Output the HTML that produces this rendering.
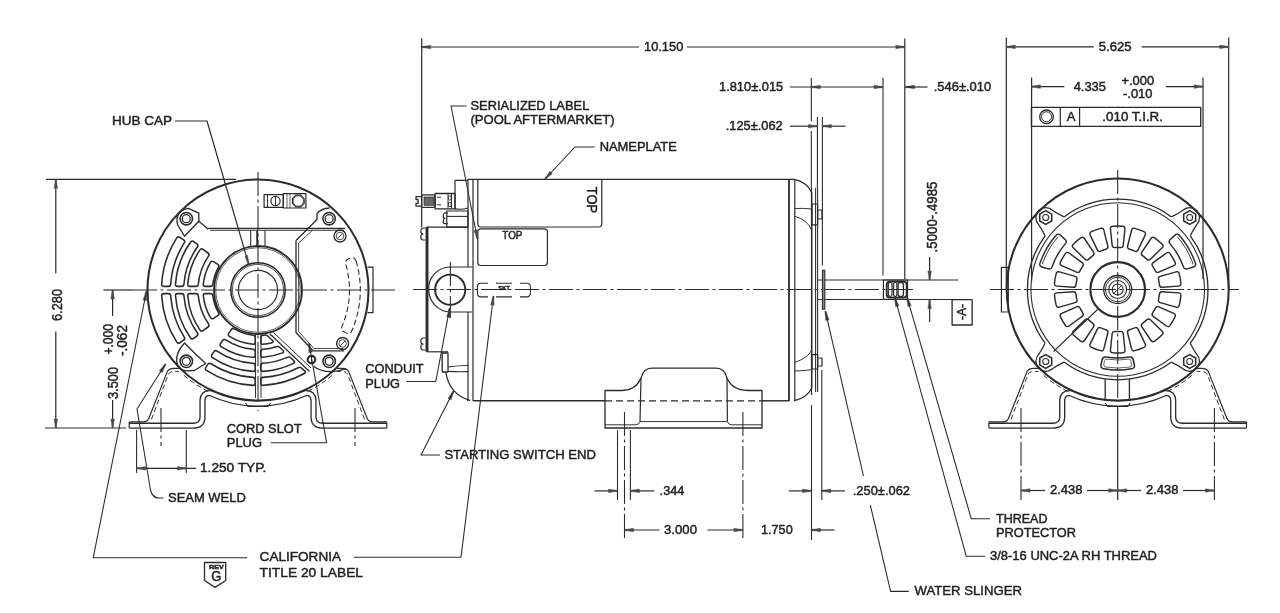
<!DOCTYPE html>
<html><head><meta charset="utf-8"><style>
html,body{margin:0;padding:0;background:#fff;}
svg{display:block;filter:grayscale(1);}
text{font-family:"Liberation Sans", sans-serif;stroke:#222;stroke-width:0.45px;}
</style></head><body>
<svg width="1280" height="613" viewBox="0 0 1280 613" stroke-linecap="butt" stroke-linejoin="round">
<rect width="1280" height="613" fill="#fff"/>
<line x1="133" y1="290" x2="396" y2="290" stroke="#2b2b2b" stroke-width="1.08" stroke-dasharray="24 3.5 3 3.5"/>
<line x1="258" y1="172" x2="258" y2="411" stroke="#2b2b2b" stroke-width="1.08" stroke-dasharray="24 3.5 3 3.5"/>
<circle cx="258" cy="290" r="110.5" stroke="#2b2b2b" stroke-width="2.04" fill="none"/>
<circle cx="258" cy="290" r="44" stroke="#2b2b2b" stroke-width="1.8" fill="none"/>
<circle cx="258" cy="290" r="42.3" stroke="#2b2b2b" stroke-width="0.72" fill="none"/>
<circle cx="258" cy="290" r="27.2" stroke="#2b2b2b" stroke-width="1.56" fill="none"/>
<circle cx="258" cy="290" r="25.6" stroke="#2b2b2b" stroke-width="0.84" fill="none"/>
<circle cx="258" cy="290" r="19.6" stroke="#2b2b2b" stroke-width="1.2" fill="none"/>
<rect x="264.1" y="194.6" width="19.2" height="12.8" rx="0" stroke="#2b2b2b" stroke-width="1.2" fill="none"/>
<rect x="283.3" y="193.7" width="22.6" height="14.3" rx="0" stroke="#2b2b2b" stroke-width="1.2" fill="none"/>
<line x1="267.5" y1="195" x2="267.5" y2="207" stroke="#2b2b2b" stroke-width="0.96"/>
<circle cx="275.5" cy="201" r="4.6" stroke="#2b2b2b" stroke-width="1.2" fill="none"/>
<line x1="275.5" y1="196.4" x2="275.5" y2="205.6" stroke="#2b2b2b" stroke-width="0.96"/>
<line x1="287" y1="194" x2="287" y2="208" stroke="#2b2b2b" stroke-width="0.72"/>
<line x1="290" y1="194" x2="290" y2="208" stroke="#2b2b2b" stroke-width="0.72"/>
<path d="M304.12,203.41 L300.71,206.82 L295.89,206.82 L292.48,203.41 L292.48,198.59 L295.89,195.18 L300.71,195.18 L304.12,198.59 Z" stroke="#2b2b2b" stroke-width="1.2" fill="none"/>
<circle cx="298.3" cy="201" r="5.2" stroke="#2b2b2b" stroke-width="0.72" fill="none"/>
<line x1="208" y1="228.3" x2="345" y2="228.3" stroke="#2b2b2b" stroke-width="1.2"/>
<line x1="210" y1="230.3" x2="344" y2="230.3" stroke="#2b2b2b" stroke-width="1.08"/>
<line x1="250.7" y1="230.3" x2="250.7" y2="247" stroke="#2b2b2b" stroke-width="1.08"/>
<line x1="265" y1="230.3" x2="265" y2="247" stroke="#2b2b2b" stroke-width="1.08"/>
<line x1="257.2" y1="230.3" x2="257.2" y2="246.5" stroke="#2b2b2b" stroke-width="1.92"/>
<path d="M188.5,208.4 L198.8,213.2 L198.8,221.3 L184.5,236.3 L177.8,225 Q175.5,218 179,213.5 Q183,209 188.5,208.4 Z" stroke="#2b2b2b" stroke-width="1.32" fill="none"/>
<line x1="198.8" y1="221.3" x2="208.3" y2="229.3" stroke="#2b2b2b" stroke-width="1.32"/>
<circle cx="186.3" cy="218.7" r="6.2" stroke="#2b2b2b" stroke-width="1.56" fill="none"/>
<circle cx="186.3" cy="218.7" r="4" stroke="#2b2b2b" stroke-width="1.32" fill="none"/>
<path d="M329.5,208 Q321,208.5 317,213.6 L317,219.5 L296,240.5" stroke="#2b2b2b" stroke-width="1.32" fill="none"/>
<circle cx="329.1" cy="218.7" r="6.2" stroke="#2b2b2b" stroke-width="1.56" fill="none"/>
<circle cx="329.1" cy="218.7" r="4" stroke="#2b2b2b" stroke-width="1.32" fill="none"/>
<path d="M184.5,343 Q176,352 176.7,361.3 Q178,370 186,370.8 L194.4,370.5 L205.7,363.5 Q195,354 184.5,343 Z" stroke="#2b2b2b" stroke-width="1.32" fill="none"/>
<circle cx="186.3" cy="361.3" r="6.2" stroke="#2b2b2b" stroke-width="1.56" fill="none"/>
<circle cx="186.3" cy="361.3" r="4" stroke="#2b2b2b" stroke-width="1.32" fill="none"/>
<path d="M313.6,366.2 Q320,371.5 331.2,371.6 Q340,371 346,368.6" stroke="#2b2b2b" stroke-width="1.32" fill="none"/>
<circle cx="329.2" cy="361.3" r="6.2" stroke="#2b2b2b" stroke-width="1.56" fill="none"/>
<circle cx="329.2" cy="361.3" r="4" stroke="#2b2b2b" stroke-width="1.32" fill="none"/>
<path d="M296,240.5 L296,332.5 L313,350.8 L344,350.8" stroke="#2b2b2b" stroke-width="1.32" fill="none"/>
<path d="M312.6,230.3 L298.6,243 L298.6,331.5 L314,348.5 L343,348.5" stroke="#2b2b2b" stroke-width="0.84" fill="none"/>
<circle cx="340" cy="236" r="6" stroke="#2b2b2b" stroke-width="1.32" fill="none"/>
<circle cx="340" cy="236" r="3.8" stroke="#2b2b2b" stroke-width="0.84" fill="none"/>
<line x1="337.5" y1="238.5" x2="342.5" y2="233.5" stroke="#2b2b2b" stroke-width="0.84"/>
<circle cx="342.6" cy="343.5" r="6" stroke="#2b2b2b" stroke-width="1.32" fill="none"/>
<circle cx="342.6" cy="343.5" r="3.8" stroke="#2b2b2b" stroke-width="0.84" fill="none"/>
<line x1="340" y1="346" x2="345" y2="341" stroke="#2b2b2b" stroke-width="0.84"/>
<circle cx="311.5" cy="359.6" r="3.8" stroke="#2b2b2b" stroke-width="2.16" fill="none"/>
<line x1="311.5" y1="356.5" x2="311.5" y2="362.7" stroke="#2b2b2b" stroke-width="0.96"/>
<path d="M356.1,260.98 A102.3,102.3 0 0 1 351.83,330.76 Q349.95,334.85 345.9,332.87 L344.28,332.08 Q340.24,330.11 342.11,326.02 A91.5,91.5 0 0 0 345.87,264.5 Q344.51,260.21 348.77,258.75 L350.47,258.16 Q354.73,256.69 356.1,260.98 Z" stroke="#2b2b2b" stroke-width="1.08" fill="none" stroke-dasharray="5.5 3"/>
<path d="M367.5,267.2 L373,267.2 L373,312.7 L367.5,312.7" stroke="#2b2b2b" stroke-width="1.2" fill="none"/>
<path d="M203.31,284.21 A55,55 0 0 1 210.47,262.33 Q211.61,260.45 213.47,261.63 L217.77,264.37 Q219.63,265.55 218.49,267.44 A45.5,45.5 0 0 0 212.87,284.21 Q212.64,286.4 210.44,286.4 L205.32,286.4 Q203.12,286.4 203.31,284.21 Z" stroke="#2b2b2b" stroke-width="1.56" fill="none"/>
<path d="M203.31,295.79 A55,55 0 0 0 210.47,317.67 Q211.61,319.55 213.47,318.37 L217.77,315.63 Q219.63,314.45 218.49,312.56 A45.5,45.5 0 0 1 212.87,295.79 Q212.64,293.6 210.44,293.6 L205.32,293.6 Q203.12,293.6 203.31,295.79 Z" stroke="#2b2b2b" stroke-width="1.56" fill="none"/>
<path d="M187.74,284.2 A70.5,70.5 0 0 1 200.05,249.85 Q201.33,248.06 203.1,249.37 L208,253 Q209.77,254.31 208.49,256.1 A60,60 0 0 0 198.28,284.21 Q198.11,286.4 195.91,286.4 L189.79,286.4 Q187.59,286.4 187.74,284.2 Z" stroke="#2b2b2b" stroke-width="1.56" fill="none"/>
<path d="M187.74,295.8 A70.5,70.5 0 0 0 200.05,330.15 Q201.33,331.94 203.1,330.63 L208,327 Q209.77,325.69 208.49,323.9 A60,60 0 0 1 198.28,295.79 Q198.11,293.6 195.91,293.6 L189.79,293.6 Q187.59,293.6 187.74,295.8 Z" stroke="#2b2b2b" stroke-width="1.56" fill="none"/>
<path d="M175.5,284.2 A82.7,82.7 0 0 1 190.65,242 Q191.95,240.23 193.71,241.55 L196.9,243.96 Q198.66,245.29 197.36,247.06 A74.3,74.3 0 0 0 183.93,284.2 Q183.79,286.4 181.59,286.4 L177.58,286.4 Q175.38,286.4 175.5,284.2 Z" stroke="#2b2b2b" stroke-width="1.56" fill="none"/>
<path d="M175.5,295.8 A82.7,82.7 0 0 0 190.65,338 Q191.95,339.77 193.71,338.45 L196.9,336.04 Q198.66,334.71 197.36,332.94 A74.3,74.3 0 0 1 183.93,295.8 Q183.79,293.6 181.59,293.6 L177.58,293.6 Q175.38,293.6 175.5,295.8 Z" stroke="#2b2b2b" stroke-width="1.56" fill="none"/>
<path d="M161.67,284.2 A96.5,96.5 0 0 1 176.79,237.88 Q178,236.04 179.82,237.27 L183.64,239.84 Q185.46,241.07 184.25,242.91 A87.5,87.5 0 0 0 170.69,284.2 Q170.57,286.4 168.37,286.4 L163.77,286.4 Q161.57,286.4 161.67,284.2 Z" stroke="#2b2b2b" stroke-width="1.56" fill="none"/>
<path d="M161.67,295.8 A96.5,96.5 0 0 0 176.79,342.12 Q178,343.96 179.82,342.73 L183.64,340.16 Q185.46,338.93 184.25,337.09 A87.5,87.5 0 0 1 170.69,295.8 Q170.57,293.6 168.37,293.6 L163.77,293.6 Q161.57,293.6 161.67,295.8 Z" stroke="#2b2b2b" stroke-width="1.56" fill="none"/>
<path d="M253.01,344.27 A54.5,54.5 0 0 1 229.37,336.38 Q227.52,335.18 228.75,333.36 L231.33,329.55 Q232.56,327.72 234.41,328.91 A45.5,45.5 0 0 0 253.01,335.23 Q255.2,335.41 255.2,337.61 L255.2,342.23 Q255.2,344.43 253.01,344.27 Z" stroke="#2b2b2b" stroke-width="1.56" fill="none"/>
<path d="M262.99,344.27 A54.5,54.5 0 0 0 272,342.67 Q274.12,342.06 272.52,340.55 L267.97,336.24 Q266.37,334.72 264.2,335.08 A45.5,45.5 0 0 1 262.99,335.23 Q260.8,335.41 260.8,337.61 L260.8,342.23 Q260.8,344.43 262.99,344.27 Z" stroke="#2b2b2b" stroke-width="1.56" fill="none"/>
<path d="M253,357.31 A67.5,67.5 0 0 1 221.11,346.53 Q219.28,345.29 220.55,343.49 L222.61,340.54 Q223.87,338.74 225.7,339.97 A59.5,59.5 0 0 0 253,349.29 Q255.2,349.43 255.2,351.63 L255.2,355.24 Q255.2,357.44 253,357.31 Z" stroke="#2b2b2b" stroke-width="1.56" fill="none"/>
<path d="M263,357.31 A67.5,67.5 0 0 0 282.56,352.88 Q284.59,352.04 283.01,350.52 L279.84,347.47 Q278.25,345.95 276.17,346.66 A59.5,59.5 0 0 1 263,349.29 Q260.8,349.43 260.8,351.63 L260.8,355.24 Q260.8,357.44 263,357.31 Z" stroke="#2b2b2b" stroke-width="1.56" fill="none"/>
<path d="M253,371.35 A81.5,81.5 0 0 1 212.48,357.6 Q210.67,356.35 211.95,354.56 L214.04,351.63 Q215.32,349.84 217.13,351.09 A73.5,73.5 0 0 0 253,363.33 Q255.2,363.45 255.2,365.65 L255.2,369.25 Q255.2,371.45 253,371.35 Z" stroke="#2b2b2b" stroke-width="1.56" fill="none"/>
<path d="M263,371.35 A81.5,81.5 0 0 0 293.54,363.34 Q295.51,362.36 293.91,360.85 L290.9,358.01 Q289.29,356.5 287.29,357.41 A73.5,73.5 0 0 1 263,363.33 Q260.8,363.45 260.8,365.65 L260.8,369.25 Q260.8,371.45 263,371.35 Z" stroke="#2b2b2b" stroke-width="1.56" fill="none"/>
<path d="M253,385.37 A95.5,95.5 0 0 1 206.43,370.38 Q204.6,369.17 205.83,367.35 L207.84,364.36 Q209.07,362.54 210.91,363.75 A87.5,87.5 0 0 0 253,377.36 Q255.2,377.46 255.2,379.66 L255.2,383.26 Q255.2,385.46 253,385.37 Z" stroke="#2b2b2b" stroke-width="1.56" fill="none"/>
<path d="M263,385.37 A95.5,95.5 0 0 0 304.27,373.54 Q306.18,372.45 304.59,370.93 L301.74,368.2 Q300.15,366.68 298.21,367.71 A87.5,87.5 0 0 1 263,377.36 Q260.8,377.46 260.8,379.66 L260.8,383.26 Q260.8,385.46 263,385.37 Z" stroke="#2b2b2b" stroke-width="1.56" fill="none"/>
<line x1="255.5" y1="334" x2="255.5" y2="398" stroke="#2b2b2b" stroke-width="0.96"/>
<line x1="261" y1="334" x2="261" y2="398" stroke="#2b2b2b" stroke-width="0.96"/>
<line x1="270" y1="334" x2="309.5" y2="371.5" stroke="#2b2b2b" stroke-width="1.2"/>
<line x1="273.5" y1="332.5" x2="311" y2="368" stroke="#2b2b2b" stroke-width="0.96"/>
<path d="M129.2,425.7 L193,425.7 Q202.5,425.7 202.5,417 L202.5,400 Q203,393 210,393 A113.6,113.6 0 0 0 306,393 Q313,393 313.5,400 L313.5,417 Q313.5,425.7 323,425.7 L386.8,425.7" stroke="#2b2b2b" stroke-width="6.24" fill="none"/>
<path d="M129.2,425.7 L193,425.7 Q202.5,425.7 202.5,417 L202.5,400 Q203,393 210,393 A113.6,113.6 0 0 0 306,393 Q313,393 313.5,400 L313.5,417 Q313.5,425.7 323,425.7 L386.8,425.7" stroke="#fff" stroke-width="3.6" fill="none"/>
<line x1="129.2" y1="421.9" x2="129.2" y2="428" stroke="#2b2b2b" stroke-width="1.2"/>
<line x1="386.8" y1="421.9" x2="386.8" y2="428" stroke="#2b2b2b" stroke-width="1.2"/>
<path d="M129.2,421.9 L143.5,421.9 Q147.5,421.9 149,418 L167.4,371.4 Q169.5,368.4 174,368.4 L179,368.4" stroke="#2b2b2b" stroke-width="1.2" fill="none"/>
<path d="M151.4,419.4 L168.5,374 Q170,371.4 174,371.4 L179,371.4" stroke="#2b2b2b" stroke-width="0.96" fill="none" stroke-dasharray="5 3"/>
<path d="M386.8,421.9 L372.5,421.9 Q368.5,421.9 367,418 L348.6,371.4 Q346.5,368.4 342,368.4 L337,368.4" stroke="#2b2b2b" stroke-width="1.2" fill="none"/>
<path d="M364.6,419.4 L347.5,374 Q346,371.4 342,371.4 L337,371.4" stroke="#2b2b2b" stroke-width="0.96" fill="none" stroke-dasharray="5 3"/>
<path d="M183.87,375.28 L188.43,379.05 L193.19,382.56 L198.12,385.83 L203.22,388.83 L208.46,391.56" stroke="#2b2b2b" stroke-width="0.96" fill="none" stroke-dasharray="5 3"/>
<path d="M332.13,375.28 L327.57,379.05 L322.81,382.56 L317.88,385.83 L312.78,388.83 L307.54,391.56" stroke="#2b2b2b" stroke-width="0.96" fill="none" stroke-dasharray="5 3"/>
<path d="M245.5,403 L248,406.5 L268,406.5 L270.5,403" stroke="#2b2b2b" stroke-width="1.08" fill="none"/>
<line x1="161" y1="408" x2="161" y2="446" stroke="#2b2b2b" stroke-width="1.08" stroke-dasharray="24 3.5 3 3.5"/>
<line x1="355" y1="408" x2="355" y2="446" stroke="#2b2b2b" stroke-width="1.08" stroke-dasharray="24 3.5 3 3.5"/>
<line x1="46" y1="179.3" x2="236" y2="179.3" stroke="#2b2b2b" stroke-width="1.2"/>
<line x1="45" y1="428" x2="126" y2="428" stroke="#2b2b2b" stroke-width="1.2"/>
<line x1="55.8" y1="179.3" x2="55.8" y2="273.2" stroke="#2b2b2b" stroke-width="1.2"/>
<line x1="55.8" y1="331.6" x2="55.8" y2="428" stroke="#2b2b2b" stroke-width="1.2"/>
<path d="M56.45,179.3 Q56.58,183.35 57.6,188.3 L54,188.3 Q55.02,183.35 55.15,179.3 Z" fill="#484848" stroke="#484848" stroke-width="0.4"/>
<path d="M55.15,428 Q55.02,423.95 54,419 L57.6,419 Q56.58,423.95 56.45,428 Z" fill="#484848" stroke="#484848" stroke-width="0.4"/>
<text x="41" y="310.01" font-size="14" fill="#222" textLength="32" lengthAdjust="spacingAndGlyphs" transform="rotate(-90 57 305)">6.280</text>
<line x1="112.6" y1="290" x2="112.6" y2="316" stroke="#2b2b2b" stroke-width="1.2"/>
<line x1="103.4" y1="290" x2="133" y2="290" stroke="#2b2b2b" stroke-width="1.2"/>
<line x1="112.6" y1="400" x2="112.6" y2="428" stroke="#2b2b2b" stroke-width="1.2"/>
<path d="M113.25,290 Q113.38,294.05 114.4,299 L110.8,299 Q111.82,294.05 111.95,290 Z" fill="#484848" stroke="#484848" stroke-width="0.4"/>
<path d="M111.95,428 Q111.82,423.95 110.8,419 L114.4,419 Q113.38,423.95 113.25,428 Z" fill="#484848" stroke="#484848" stroke-width="0.4"/>
<text x="92.3" y="344.31" font-size="14" fill="#222" textLength="30.6" lengthAdjust="spacingAndGlyphs" transform="rotate(-90 107.6 339.3)">+.000</text>
<text x="106" y="345.51" font-size="14" fill="#222" textLength="31" lengthAdjust="spacingAndGlyphs" transform="rotate(-90 121.5 340.5)">-.062</text>
<text x="97" y="388.01" font-size="14" fill="#222" textLength="32" lengthAdjust="spacingAndGlyphs" transform="rotate(-90 113 383)">3.500</text>
<line x1="136.6" y1="430" x2="136.6" y2="473" stroke="#2b2b2b" stroke-width="1.08"/>
<line x1="186.3" y1="430" x2="186.3" y2="473" stroke="#2b2b2b" stroke-width="1.08"/>
<line x1="136.6" y1="468.4" x2="196" y2="468.4" stroke="#2b2b2b" stroke-width="1.2"/>
<path d="M136.6,467.75 Q140.65,467.62 145.6,466.6 L145.6,470.2 Q140.65,469.18 136.6,469.05 Z" fill="#484848" stroke="#484848" stroke-width="0.4"/>
<path d="M186.3,469.05 Q182.25,469.18 177.3,470.2 L177.3,466.6 Q182.25,467.62 186.3,467.75 Z" fill="#484848" stroke="#484848" stroke-width="0.4"/>
<text x="200" y="472.35" font-size="13" fill="#222" text-anchor="start" textLength="66.4" lengthAdjust="spacingAndGlyphs">1.250 TYP.</text>
<path d="M166.05,364.34 Q164.02,367.85 162.27,372.59 L159.21,370.68 Q162.7,367.02 164.95,363.66 Z" fill="#484848" stroke="#484848" stroke-width="0.4"/>
<path d="M165.5,364 L137,409 L150.5,490 Q152.5,498 159,498 L163.6,498" stroke="#2b2b2b" stroke-width="1.08" fill="none"/>
<text x="168" y="501.75" font-size="13" fill="#222" text-anchor="start" textLength="77.8" lengthAdjust="spacingAndGlyphs">SEAM WELD</text>
<path d="M309.64,343.38 Q310.49,347.35 312.37,352.04 L308.82,352.68 Q308.95,347.62 308.36,343.62 Z" fill="#484848" stroke="#484848" stroke-width="0.4"/>
<path d="M309,343.5 L326.6,442.8 L270.8,442.8" stroke="#2b2b2b" stroke-width="1.08" fill="none"/>
<text x="226.8" y="433.35" font-size="13" fill="#222" text-anchor="start" textLength="74.8" lengthAdjust="spacingAndGlyphs">CORD SLOT</text>
<text x="226.8" y="447.15" font-size="13" fill="#222" text-anchor="start" textLength="35.2" lengthAdjust="spacingAndGlyphs">PLUG</text>
<path d="M175,121 L207,121 L248.7,264.3" stroke="#2b2b2b" stroke-width="1.2" fill="none"/>
<path d="M248.08,264.48 Q246.83,260.63 244.86,256.04 L247.55,255.27 Q248.32,260.19 249.32,264.12 Z" fill="#484848" stroke="#484848" stroke-width="0.4"/>
<text x="112" y="124.95" font-size="13" fill="#222" text-anchor="start" textLength="60" lengthAdjust="spacingAndGlyphs">HUB CAP</text>
<path d="M147.04,291.62 Q146.41,295.62 146.49,300.68 L142.95,300.01 Q144.88,295.33 145.76,291.38 Z" fill="#484848" stroke="#484848" stroke-width="0.4"/>
<path d="M146.4,291.5 L93.2,557.8 L247.3,557.8" stroke="#2b2b2b" stroke-width="1.08" fill="none"/>
<path d="M353.7,557.3 L461,557.3 L493.5,296" stroke="#2b2b2b" stroke-width="1.08" fill="none"/>
<path d="M494.14,296.08 Q493.77,300.12 494.16,305.15 L490.59,304.7 Q492.22,299.92 492.86,295.92 Z" fill="#484848" stroke="#484848" stroke-width="0.4"/>
<text x="259.6" y="561.35" font-size="13" fill="#222" text-anchor="start" textLength="81.4" lengthAdjust="spacingAndGlyphs">CALIFORNIA</text>
<text x="259.6" y="576.95" font-size="13" fill="#222" text-anchor="start" textLength="103.4" lengthAdjust="spacingAndGlyphs">TITLE 20 LABEL</text>
<path d="M204.5,562.5 L225.7,562.5 L225.7,580.5 L215.1,587.4 L204.5,580.5 Z" stroke="#2b2b2b" stroke-width="1.32" fill="none"/>
<text x="209" y="568.8" font-size="6" font-weight="bold" fill="#222" textLength="14.8" lengthAdjust="spacingAndGlyphs">REV</text>
<text x="211.3" y="580.91" font-size="14" fill="#222" text-anchor="start" textLength="10.2" lengthAdjust="spacingAndGlyphs">G</text>
<line x1="413" y1="289.5" x2="914" y2="289.5" stroke="#2b2b2b" stroke-width="1.08" stroke-dasharray="24 3.5 3 3.5"/>
<line x1="468" y1="179.4" x2="794.5" y2="179.4" stroke="#2b2b2b" stroke-width="1.44"/>
<line x1="473" y1="400.8" x2="605" y2="400.8" stroke="#2b2b2b" stroke-width="1.44"/>
<line x1="605" y1="400.8" x2="762" y2="400.8" stroke="#2b2b2b" stroke-width="1.2" stroke-dasharray="7 4"/>
<line x1="762" y1="400.8" x2="789" y2="400.8" stroke="#2b2b2b" stroke-width="1.44"/>
<line x1="468" y1="179.4" x2="468" y2="267" stroke="#2b2b2b" stroke-width="1.2"/>
<line x1="468" y1="312" x2="468" y2="401" stroke="#2b2b2b" stroke-width="1.2"/>
<line x1="473" y1="179.4" x2="473" y2="401" stroke="#2b2b2b" stroke-width="1.2"/>
<path d="M477.8,179.4 L477.8,223.5 Q477.8,227 481,227 L598.5,227 Q601.8,227 601.8,223.5 L601.8,179.4" stroke="#2b2b2b" stroke-width="1.2" fill="none"/>
<text x="578.75" y="205.37" font-size="15" fill="#222" textLength="26.3" lengthAdjust="spacingAndGlyphs" transform="rotate(90 591.9 200)">TOP</text>
<rect x="477.8" y="228.8" width="69.6" height="36.7" rx="3" stroke="#2b2b2b" stroke-width="1.2" fill="none"/>
<text x="502.3" y="238.88" font-size="10" fill="#222" text-anchor="start" textLength="20.2" lengthAdjust="spacingAndGlyphs">TOP</text>
<path d="M455,180.3 L468,180.3 M455,180.3 L455,208.8 Q462,210 468,208" stroke="#2b2b2b" stroke-width="1.2" fill="none"/>
<rect x="435.1" y="193.5" width="19.9" height="15.3" rx="0" stroke="#2b2b2b" stroke-width="1.32" fill="none"/>
<line x1="437" y1="197.2" x2="441" y2="197.2" stroke="#2b2b2b" stroke-width="0.96"/>
<line x1="437" y1="204.8" x2="441" y2="204.8" stroke="#2b2b2b" stroke-width="0.96"/>
<line x1="448" y1="194" x2="448" y2="208.5" stroke="#2b2b2b" stroke-width="0.96"/>
<line x1="451.5" y1="194" x2="451.5" y2="208.5" stroke="#2b2b2b" stroke-width="0.96"/>
<rect x="448.5" y="196" width="2.5" height="4" rx="0" stroke="#2b2b2b" stroke-width="0.72" fill="none"/>
<rect x="448.5" y="202.5" width="2.5" height="4" rx="0" stroke="#2b2b2b" stroke-width="0.72" fill="none"/>
<rect x="421.7" y="194.9" width="13.4" height="12.5" rx="1.5" stroke="#2b2b2b" stroke-width="1.2" fill="none"/>
<rect x="424" y="197" width="10" height="8.3" rx="0" stroke="#2b2b2b" stroke-width="0.72" fill="#666"/>
<path d="M421.7,196.7 L416,196.7 L416,199.5 L418,199.5 L418,203.3 L416,203.3 L416,206.1 L421.7,206.1" stroke="#2b2b2b" stroke-width="1.32" fill="none"/>
<rect x="446.8" y="211" width="21.2" height="16.2" rx="0" stroke="#2b2b2b" stroke-width="1.2" fill="none"/>
<line x1="446.8" y1="216.4" x2="468" y2="216.4" stroke="#2b2b2b" stroke-width="1.08"/>
<path d="M447.7,212.8 L445,212.8 Q443.2,213.5 443.2,215.8 Q443.2,218.2 445,218.2 Q443.2,218.8 443.2,221.2 Q443.2,223.6 445,223.6 L447.7,223.6" stroke="#2b2b2b" stroke-width="1.2" fill="none"/>
<line x1="426.2" y1="227.2" x2="468" y2="227.2" stroke="#2b2b2b" stroke-width="1.2"/>
<line x1="427" y1="227.2" x2="427" y2="351.8" stroke="#2b2b2b" stroke-width="2.88"/>
<path d="M425.5,228 L423,228 Q420.8,228.5 420.8,231 Q420.8,234 423,234 Q420.8,234.5 420.8,237 Q420.8,240 423,240 L425.5,240" stroke="#2b2b2b" stroke-width="1.2" fill="none"/>
<path d="M425.5,338 L423,338 Q420.8,338.5 420.8,341 Q420.8,344 423,344 Q420.8,344.5 420.8,347 Q420.8,350 423,350 L425.5,350" stroke="#2b2b2b" stroke-width="1.2" fill="none"/>
<line x1="426.5" y1="351.8" x2="448" y2="351.8" stroke="#2b2b2b" stroke-width="1.2"/>
<circle cx="450.2" cy="289.7" r="15.1" stroke="#2b2b2b" stroke-width="1.92" fill="none"/>
<path d="M428.7,289.5 A21.5,21.5 0 0 1 450.2,267 L472.4,267" stroke="#2b2b2b" stroke-width="1.2" fill="none"/>
<path d="M428.7,289.5 A22.5,22.5 0 0 0 450.2,312 L472.4,312" stroke="#2b2b2b" stroke-width="1.2" fill="none"/>
<line x1="450.4" y1="262" x2="450.4" y2="318" stroke="#2b2b2b" stroke-width="1.08" stroke-dasharray="24 3.5 3 3.5"/>
<path d="M488,283.2 L481,283.2 Q477.4,283.2 477.4,286.8 L477.4,293.3 Q477.4,296.9 481,296.9 L488,296.9 M496,283.2 L512,283.2 M496,296.9 L512,296.9 M520,283.2 L526.8,283.2 Q530.4,283.2 530.4,286.8 L530.4,293.3 Q530.4,296.9 526.8,296.9 L520,296.9" stroke="#2b2b2b" stroke-width="1.08" fill="none"/>
<text x="504" y="289.95" font-size="6" fill="#222" text-anchor="middle">SKT</text>
<rect x="442.2" y="353" width="5.8" height="19" rx="0" stroke="#2b2b2b" stroke-width="1.32" fill="none"/>
<path d="M448,367 Q458,365.5 468.5,365.5" stroke="#2b2b2b" stroke-width="1.08" fill="none"/>
<path d="M448,371.4 Q458,372 468.5,371.6" stroke="#2b2b2b" stroke-width="1.08" fill="none"/>
<path d="M445.8,372 Q449,394 470,400.5" stroke="#2b2b2b" stroke-width="1.32" fill="none"/>
<line x1="789" y1="179.4" x2="789" y2="401" stroke="#2b2b2b" stroke-width="1.8"/>
<line x1="794.8" y1="179.4" x2="794.8" y2="401" stroke="#2b2b2b" stroke-width="1.2"/>
<path d="M794,179.4 Q807,182 811.8,192.8 L811.8,388 Q807,398 794,400.8" stroke="#2b2b2b" stroke-width="1.2" fill="none"/>
<path d="M794.8,208.5 Q803,208 811.8,209" stroke="#2b2b2b" stroke-width="0.96" fill="none"/>
<path d="M794.8,216.3 Q808,220 811.8,230.7" stroke="#2b2b2b" stroke-width="0.96" fill="none"/>
<path d="M794.8,371 Q803,371 811.8,369.6" stroke="#2b2b2b" stroke-width="0.96" fill="none"/>
<path d="M794.8,362.4 Q808,358 811.8,350" stroke="#2b2b2b" stroke-width="0.96" fill="none"/>
<line x1="811.5" y1="188" x2="811.5" y2="395" stroke="#2b2b2b" stroke-width="1.2"/>
<line x1="815.6" y1="188" x2="815.6" y2="392" stroke="#2b2b2b" stroke-width="1.08"/>
<line x1="817.6" y1="188" x2="817.6" y2="392" stroke="#2b2b2b" stroke-width="1.08"/>
<rect x="812" y="204" width="5.6" height="20.8" rx="0" stroke="#2b2b2b" stroke-width="1.2" fill="none"/>
<rect x="817.6" y="210" width="4.4" height="9" rx="0" stroke="#2b2b2b" stroke-width="1.2" fill="none"/>
<rect x="812" y="354.6" width="5.6" height="14.4" rx="0" stroke="#2b2b2b" stroke-width="1.2" fill="none"/>
<rect x="817.6" y="358" width="4.4" height="8" rx="0" stroke="#2b2b2b" stroke-width="1.2" fill="none"/>
<line x1="817.6" y1="280" x2="958" y2="280" stroke="#2b2b2b" stroke-width="1.2"/>
<line x1="817.6" y1="299.5" x2="955" y2="299.5" stroke="#2b2b2b" stroke-width="1.2"/>
<rect x="822.4" y="270.2" width="2.4" height="39.1" rx="0" stroke="#2b2b2b" stroke-width="1.08" fill="#888"/>
<rect x="883.4" y="280" width="24.1" height="19.4" rx="0" stroke="#2b2b2b" stroke-width="1.2" fill="none"/>
<rect x="886.7" y="281.7" width="20" height="15.9" rx="3" stroke="#2b2b2b" stroke-width="1.8" fill="none"/>
<rect x="888.3" y="282.5" width="3.7" height="13.9" rx="1.8" stroke="#2b2b2b" stroke-width="1.2" fill="none"/>
<rect x="893.6" y="282.5" width="3.3" height="13.9" rx="1.6" stroke="#2b2b2b" stroke-width="1.2" fill="none"/>
<rect x="898.1" y="282.5" width="5.3" height="13.9" rx="2" stroke="#2b2b2b" stroke-width="1.32" fill="none"/>
<path d="M605,428 L605,390.5 L622.4,390.5 Q636,390 641,378 Q643.6,368.2 652,368.2 L716,368.2 Q724.5,368.2 727,378 Q732,390 747.5,390.5 L762,390.5 L762,428 Z" stroke="#2b2b2b" stroke-width="1.32" fill="none"/>
<line x1="641" y1="378" x2="640" y2="421.6" stroke="#2b2b2b" stroke-width="1.2"/>
<line x1="727" y1="378" x2="727.4" y2="421.6" stroke="#2b2b2b" stroke-width="1.2"/>
<path d="M605,424.8 L636,424.8 Q639,424.8 640,421.6 L727.4,421.6 Q728.4,424.8 731.4,424.8 L762,424.8" stroke="#2b2b2b" stroke-width="0.96" fill="none"/>
<line x1="421.7" y1="38.3" x2="421.7" y2="227.3" stroke="#2b2b2b" stroke-width="1.2"/>
<line x1="904.8" y1="38.6" x2="904.8" y2="279" stroke="#2b2b2b" stroke-width="1.2"/>
<line x1="421.7" y1="47" x2="639" y2="47" stroke="#2b2b2b" stroke-width="1.2"/>
<line x1="687" y1="47" x2="904.8" y2="47" stroke="#2b2b2b" stroke-width="1.2"/>
<path d="M421.7,46.35 Q425.75,46.22 430.7,45.2 L430.7,48.8 Q425.75,47.78 421.7,47.65 Z" fill="#484848" stroke="#484848" stroke-width="0.4"/>
<path d="M904.8,47.65 Q900.75,47.78 895.8,48.8 L895.8,45.2 Q900.75,46.22 904.8,46.35 Z" fill="#484848" stroke="#484848" stroke-width="0.4"/>
<text x="644" y="50.95" font-size="13" fill="#222" text-anchor="start" textLength="39.3" lengthAdjust="spacingAndGlyphs">10.150</text>
<path d="M466.6,106 L451,106 L477.5,239" stroke="#2b2b2b" stroke-width="1.08" fill="none"/>
<path d="M476.86,239.13 Q475.94,235.18 473.97,230.53 L477.5,229.82 Q477.47,234.88 478.14,238.87 Z" fill="#484848" stroke="#484848" stroke-width="0.4"/>
<text x="470.5" y="110.15" font-size="13" fill="#222" text-anchor="start" textLength="118.8" lengthAdjust="spacingAndGlyphs">SERIALIZED LABEL</text>
<text x="470.5" y="124.45" font-size="13" fill="#222" text-anchor="start" textLength="144.1" lengthAdjust="spacingAndGlyphs">(POOL AFTERMARKET)</text>
<path d="M594.5,147 L575,147 L545,179" stroke="#2b2b2b" stroke-width="1.08" fill="none"/>
<path d="M544.52,178.56 Q547.19,175.5 549.82,171.19 L552.45,173.64 Q548.33,176.57 545.48,179.44 Z" fill="#484848" stroke="#484848" stroke-width="0.4"/>
<text x="599.7" y="151.15" font-size="13" fill="#222" text-anchor="start" textLength="77.1" lengthAdjust="spacingAndGlyphs">NAMEPLATE</text>
<line x1="811.3" y1="77.7" x2="811.3" y2="121" stroke="#2b2b2b" stroke-width="1.08"/>
<line x1="811.3" y1="131" x2="811.3" y2="188" stroke="#2b2b2b" stroke-width="1.08"/>
<line x1="883" y1="77.7" x2="883" y2="275.6" stroke="#2b2b2b" stroke-width="1.08"/>
<line x1="790" y1="87" x2="883" y2="87" stroke="#2b2b2b" stroke-width="1.2"/>
<path d="M811.3,86.35 Q815.35,86.22 820.3,85.2 L820.3,88.8 Q815.35,87.78 811.3,87.65 Z" fill="#484848" stroke="#484848" stroke-width="0.4"/>
<path d="M883,87.65 Q878.95,87.78 874,88.8 L874,85.2 Q878.95,86.22 883,86.35 Z" fill="#484848" stroke="#484848" stroke-width="0.4"/>
<text x="719" y="90.95" font-size="13" fill="#222" text-anchor="start" textLength="64.2" lengthAdjust="spacingAndGlyphs">1.810±.015</text>
<path d="M905.5,86.35 Q909.55,86.22 914.5,85.2 L914.5,88.8 Q909.55,87.78 905.5,87.65 Z" fill="#484848" stroke="#484848" stroke-width="0.4"/>
<line x1="905.5" y1="87" x2="927.5" y2="87" stroke="#2b2b2b" stroke-width="1.2"/>
<text x="933.7" y="90.95" font-size="13" fill="#222" text-anchor="start" textLength="57.5" lengthAdjust="spacingAndGlyphs">.546±.010</text>
<line x1="817.4" y1="116.9" x2="817.4" y2="188" stroke="#2b2b2b" stroke-width="1.08"/>
<line x1="822.4" y1="116.9" x2="822.4" y2="265.6" stroke="#2b2b2b" stroke-width="1.08"/>
<line x1="790" y1="126.2" x2="817.4" y2="126.2" stroke="#2b2b2b" stroke-width="1.2"/>
<line x1="822.4" y1="126.2" x2="845.6" y2="126.2" stroke="#2b2b2b" stroke-width="1.2"/>
<path d="M817.4,126.85 Q813.35,126.98 808.4,128 L808.4,124.4 Q813.35,125.42 817.4,125.55 Z" fill="#484848" stroke="#484848" stroke-width="0.4"/>
<path d="M822.4,125.55 Q826.45,125.42 831.4,124.4 L831.4,128 Q826.45,126.98 822.4,126.85 Z" fill="#484848" stroke="#484848" stroke-width="0.4"/>
<text x="725.7" y="130.15" font-size="13" fill="#222" text-anchor="start" textLength="57" lengthAdjust="spacingAndGlyphs">.125±.062</text>
<line x1="929.6" y1="257" x2="929.6" y2="280" stroke="#2b2b2b" stroke-width="1.2"/>
<path d="M928.95,280 Q928.82,275.95 927.8,271 L931.4,271 Q930.38,275.95 930.25,280 Z" fill="#484848" stroke="#484848" stroke-width="0.4"/>
<line x1="929.6" y1="322" x2="929.6" y2="299.5" stroke="#2b2b2b" stroke-width="1.2"/>
<path d="M930.25,299.5 Q930.38,303.55 931.4,308.5 L927.8,308.5 Q928.82,303.55 928.95,299.5 Z" fill="#484848" stroke="#484848" stroke-width="0.4"/>
<text x="896.6" y="222.01" font-size="14" fill="#222" textLength="70.8" lengthAdjust="spacingAndGlyphs" transform="rotate(-90 932 217)">.5000-.4985</text>
<rect x="952.1" y="299.6" width="20" height="25.4" rx="0" stroke="#2b2b2b" stroke-width="1.32" fill="none"/>
<text x="954" y="316.3" font-size="12" fill="#222" textLength="16" lengthAdjust="spacingAndGlyphs" transform="rotate(-90 962 312)">-A-</text>
<path d="M450.24,308.38 Q449.85,312.42 450.22,317.46 L446.65,316.99 Q448.3,312.22 448.96,308.22 Z" fill="#484848" stroke="#484848" stroke-width="0.4"/>
<path d="M449.6,308.3 L435.8,381.5 L406.6,381.5" stroke="#2b2b2b" stroke-width="1.08" fill="none"/>
<text x="365.3" y="373.45" font-size="13" fill="#222" text-anchor="start" textLength="58.2" lengthAdjust="spacingAndGlyphs">CONDUIT</text>
<text x="365.3" y="387.95" font-size="13" fill="#222" text-anchor="start" textLength="34.7" lengthAdjust="spacingAndGlyphs">PLUG</text>
<path d="M454.18,391.29 Q452.47,394.97 451.15,399.84 L447.93,398.22 Q451.08,394.26 453.02,390.71 Z" fill="#484848" stroke="#484848" stroke-width="0.4"/>
<path d="M453.6,391 L421,455 L440,455" stroke="#2b2b2b" stroke-width="1.08" fill="none"/>
<text x="444.4" y="458.95" font-size="13" fill="#222" text-anchor="start" textLength="151.5" lengthAdjust="spacingAndGlyphs">STARTING SWITCH END</text>
<line x1="617.5" y1="430" x2="617.5" y2="500" stroke="#2b2b2b" stroke-width="1.08"/>
<line x1="630.4" y1="430" x2="630.4" y2="500" stroke="#2b2b2b" stroke-width="1.08"/>
<line x1="624.5" y1="412" x2="624.5" y2="540" stroke="#2b2b2b" stroke-width="1.08" stroke-dasharray="24 3.5 3 3.5"/>
<line x1="742.9" y1="412" x2="742.9" y2="540" stroke="#2b2b2b" stroke-width="1.08" stroke-dasharray="24 3.5 3 3.5"/>
<line x1="594.4" y1="490.9" x2="617.5" y2="490.9" stroke="#2b2b2b" stroke-width="1.2"/>
<path d="M617.5,491.55 Q613.45,491.68 608.5,492.7 L608.5,489.1 Q613.45,490.12 617.5,490.25 Z" fill="#484848" stroke="#484848" stroke-width="0.4"/>
<line x1="654.4" y1="490.9" x2="630.4" y2="490.9" stroke="#2b2b2b" stroke-width="1.2"/>
<path d="M630.4,490.25 Q634.45,490.12 639.4,489.1 L639.4,492.7 Q634.45,491.68 630.4,491.55 Z" fill="#484848" stroke="#484848" stroke-width="0.4"/>
<text x="659.6" y="494.85" font-size="13" fill="#222" text-anchor="start" textLength="24.8" lengthAdjust="spacingAndGlyphs">.344</text>
<line x1="624.5" y1="530" x2="659.6" y2="530" stroke="#2b2b2b" stroke-width="1.2"/>
<path d="M624.5,529.35 Q628.55,529.22 633.5,528.2 L633.5,531.8 Q628.55,530.78 624.5,530.65 Z" fill="#484848" stroke="#484848" stroke-width="0.4"/>
<line x1="707.4" y1="530" x2="742.9" y2="530" stroke="#2b2b2b" stroke-width="1.2"/>
<path d="M742.9,530.65 Q738.85,530.78 733.9,531.8 L733.9,528.2 Q738.85,529.22 742.9,529.35 Z" fill="#484848" stroke="#484848" stroke-width="0.4"/>
<text x="664" y="533.95" font-size="13" fill="#222" text-anchor="start" textLength="33" lengthAdjust="spacingAndGlyphs">3.000</text>
<line x1="811.5" y1="405" x2="811.5" y2="540" stroke="#2b2b2b" stroke-width="1.08"/>
<line x1="811.5" y1="530" x2="834.5" y2="530" stroke="#2b2b2b" stroke-width="1.2"/>
<path d="M811.5,529.35 Q815.55,529.22 820.5,528.2 L820.5,531.8 Q815.55,530.78 811.5,530.65 Z" fill="#484848" stroke="#484848" stroke-width="0.4"/>
<text x="761" y="533.95" font-size="13" fill="#222" text-anchor="start" textLength="31.7" lengthAdjust="spacingAndGlyphs">1.750</text>
<line x1="821.8" y1="370" x2="821.8" y2="500" stroke="#2b2b2b" stroke-width="1.08"/>
<line x1="788.8" y1="490.9" x2="811.5" y2="490.9" stroke="#2b2b2b" stroke-width="1.2"/>
<path d="M811.5,491.55 Q807.45,491.68 802.5,492.7 L802.5,489.1 Q807.45,490.12 811.5,490.25 Z" fill="#484848" stroke="#484848" stroke-width="0.4"/>
<line x1="845" y1="490.9" x2="821.8" y2="490.9" stroke="#2b2b2b" stroke-width="1.2"/>
<path d="M821.8,490.25 Q825.85,490.12 830.8,489.1 L830.8,492.7 Q825.85,491.68 821.8,491.55 Z" fill="#484848" stroke="#484848" stroke-width="0.4"/>
<text x="852.8" y="494.85" font-size="13" fill="#222" text-anchor="start" textLength="57.2" lengthAdjust="spacingAndGlyphs">.250±.062</text>
<path d="M826.03,311.15 Q827.07,315.07 829.17,319.67 L825.66,320.47 Q825.55,315.42 824.77,311.45 Z" fill="#484848" stroke="#484848" stroke-width="0.4"/>
<path d="M825.4,311.3 L863.5,476" stroke="#2b2b2b" stroke-width="1.08" fill="none"/>
<path d="M870.3,505 L890.6,591.4 L908.8,591.4" stroke="#2b2b2b" stroke-width="1.08" fill="none"/>
<text x="914.5" y="595.35" font-size="13" fill="#222" text-anchor="start" textLength="107.5" lengthAdjust="spacingAndGlyphs">WATER SLINGER</text>
<path d="M907.73,297.22 Q908.94,301.09 911.26,305.58 L907.79,306.55 Q907.44,301.51 906.47,297.58 Z" fill="#484848" stroke="#484848" stroke-width="0.4"/>
<path d="M907.1,297.4 L971.3,518.8 L990,518.8" stroke="#2b2b2b" stroke-width="1.08" fill="none"/>
<text x="996" y="522.95" font-size="13" fill="#222" text-anchor="start" textLength="51.5" lengthAdjust="spacingAndGlyphs">THREAD</text>
<text x="996" y="536.95" font-size="13" fill="#222" text-anchor="start" textLength="80" lengthAdjust="spacingAndGlyphs">PROTECTOR</text>
<path d="M895.53,297.43 Q896.71,301.31 898.98,305.82 L895.51,306.76 Q895.2,301.71 894.27,297.77 Z" fill="#484848" stroke="#484848" stroke-width="0.4"/>
<path d="M894.9,297.6 L966.3,556.3 L985,556.3" stroke="#2b2b2b" stroke-width="1.08" fill="none"/>
<text x="990" y="560.25" font-size="13" fill="#222" text-anchor="start" textLength="167" lengthAdjust="spacingAndGlyphs">3/8-16 UNC-2A RH THREAD</text>
<line x1="990" y1="289.5" x2="1239" y2="289.5" stroke="#2b2b2b" stroke-width="1.08" stroke-dasharray="24 3.5 3 3.5"/>
<line x1="1117.7" y1="170" x2="1117.7" y2="406" stroke="#2b2b2b" stroke-width="1.08" stroke-dasharray="24 3.5 3 3.5"/>
<line x1="1117.7" y1="406" x2="1117.7" y2="500" stroke="#2b2b2b" stroke-width="1.2"/>
<circle cx="1117.7" cy="289.5" r="86.8" stroke="#2b2b2b" stroke-width="1.08" fill="none"/>
<circle cx="1117.7" cy="289.5" r="27.3" stroke="#2b2b2b" stroke-width="2.16" fill="none"/>
<circle cx="1117.7" cy="289.5" r="14" stroke="#2b2b2b" stroke-width="1.32" fill="none"/>
<circle cx="1117.7" cy="289.5" r="12.3" stroke="#2b2b2b" stroke-width="0.96" fill="none"/>
<circle cx="1117.7" cy="289.5" r="9" stroke="#2b2b2b" stroke-width="1.08" fill="none"/>
<circle cx="1117.7" cy="289.5" r="5.5" stroke="#2b2b2b" stroke-width="1.08" fill="none"/>
<line x1="1113.7" y1="293.5" x2="1121.7" y2="285.5" stroke="#2b2b2b" stroke-width="0.96"/>
<path d="M1063.99,216.91 Q1058.27,214.15 1052.79,210.45 A10,10 0 0 0 1038.65,224.59 Q1042.35,230.07 1045.11,235.79" stroke="#2b2b2b" stroke-width="1.32" fill="none"/>
<path d="M1063.99,216.91 A90.3,90.3 0 0 1 1171.41,216.91" stroke="#2b2b2b" stroke-width="1.32" fill="none"/>
<path d="M1051.69,220.97 L1045.72,224.42 L1039.74,220.97 L1039.74,214.07 L1045.72,210.62 L1051.69,214.07 Z" stroke="#2b2b2b" stroke-width="1.56" fill="none"/>
<circle cx="1045.72" cy="217.52" r="3" stroke="#2b2b2b" stroke-width="1.08" fill="none"/>
<path d="M1190.29,235.79 Q1193.05,230.07 1196.75,224.59 A10,10 0 0 0 1182.61,210.45 Q1177.13,214.15 1171.41,216.91" stroke="#2b2b2b" stroke-width="1.32" fill="none"/>
<path d="M1190.29,235.79 A90.3,90.3 0 0 1 1190.29,343.21" stroke="#2b2b2b" stroke-width="1.32" fill="none"/>
<path d="M1195.66,220.97 L1189.68,224.42 L1183.71,220.97 L1183.71,214.07 L1189.68,210.62 L1195.66,214.07 Z" stroke="#2b2b2b" stroke-width="1.56" fill="none"/>
<circle cx="1189.68" cy="217.52" r="3" stroke="#2b2b2b" stroke-width="1.08" fill="none"/>
<path d="M1171.41,362.09 Q1177.13,364.85 1182.61,368.55 A10,10 0 0 0 1196.75,354.41 Q1193.05,348.93 1190.29,343.21" stroke="#2b2b2b" stroke-width="1.32" fill="none"/>
<path d="M1171.41,362.09 A90.3,90.3 0 0 1 1063.99,362.09" stroke="#2b2b2b" stroke-width="1.32" fill="none"/>
<path d="M1195.66,364.93 L1189.68,368.38 L1183.71,364.93 L1183.71,358.03 L1189.68,354.58 L1195.66,358.03 Z" stroke="#2b2b2b" stroke-width="1.56" fill="none"/>
<circle cx="1189.68" cy="361.48" r="3" stroke="#2b2b2b" stroke-width="1.08" fill="none"/>
<path d="M1045.11,343.21 Q1042.35,348.93 1038.65,354.41 A10,10 0 0 0 1052.79,368.55 Q1058.27,364.85 1063.99,362.09" stroke="#2b2b2b" stroke-width="1.32" fill="none"/>
<path d="M1045.11,343.21 A90.3,90.3 0 0 1 1045.11,235.79" stroke="#2b2b2b" stroke-width="1.32" fill="none"/>
<path d="M1051.69,364.93 L1045.72,368.38 L1039.74,364.93 L1039.74,358.03 L1045.72,354.58 L1051.69,358.03 Z" stroke="#2b2b2b" stroke-width="1.56" fill="none"/>
<circle cx="1045.72" cy="361.48" r="3" stroke="#2b2b2b" stroke-width="1.08" fill="none"/>
<circle cx="1117.7" cy="289.5" r="111" stroke="#2b2b2b" stroke-width="2.04" fill="none"/>
<path d="M1112.77,226.19 A63.5,63.5 0 0 1 1122.63,226.19 Q1125.22,226.45 1124.95,229.03 L1123.26,245.25 Q1122.99,247.83 1120.4,247.59 A42,42 0 0 0 1115,247.59 Q1112.41,247.83 1112.14,245.25 L1110.45,229.03 Q1110.18,226.45 1112.77,226.19 Z" stroke="#2b2b2b" stroke-width="1.44" fill="none"/>
<path d="M1134.72,228.32 A63.5,63.5 0 0 1 1143.99,231.7 Q1146.33,232.82 1145.19,235.16 L1138.06,249.82 Q1136.92,252.16 1134.57,251.04 A42,42 0 0 0 1129.5,249.19 Q1126.98,248.54 1127.61,246.02 L1131.57,230.2 Q1132.2,227.68 1134.72,228.32 Z" stroke="#2b2b2b" stroke-width="1.44" fill="none"/>
<path d="M1154.62,237.83 A63.5,63.5 0 0 1 1162.17,244.17 Q1163.99,246.03 1162.12,247.84 L1150.4,259.17 Q1148.53,260.98 1146.71,259.13 A42,42 0 0 0 1142.57,255.66 Q1140.43,254.18 1141.89,252.03 L1151.01,238.52 Q1152.47,236.37 1154.62,237.83 Z" stroke="#2b2b2b" stroke-width="1.44" fill="none"/>
<path d="M1170.06,253.58 A63.5,63.5 0 0 1 1174.99,262.12 Q1176.07,264.48 1173.69,265.54 L1158.8,272.19 Q1156.43,273.25 1155.35,270.88 A42,42 0 0 0 1152.65,266.2 Q1151.14,264.09 1153.24,262.56 L1166.44,252.99 Q1168.55,251.46 1170.06,253.58 Z" stroke="#2b2b2b" stroke-width="1.44" fill="none"/>
<path d="M1179.19,273.65 A63.5,63.5 0 0 1 1180.9,283.36 Q1181.1,285.96 1178.51,286.14 L1162.24,287.29 Q1159.65,287.47 1159.45,284.88 A42,42 0 0 0 1158.51,279.56 Q1157.81,277.06 1160.31,276.34 L1175.99,271.86 Q1178.49,271.15 1179.19,273.65 Z" stroke="#2b2b2b" stroke-width="1.44" fill="none"/>
<path d="M1180.9,295.64 A63.5,63.5 0 0 1 1179.19,305.35 Q1178.49,307.85 1175.99,307.14 L1160.31,302.66 Q1157.81,301.94 1158.51,299.44 A42,42 0 0 0 1159.45,294.12 Q1159.65,291.53 1162.24,291.71 L1178.51,292.86 Q1181.1,293.04 1180.9,295.64 Z" stroke="#2b2b2b" stroke-width="1.44" fill="none"/>
<path d="M1174.99,316.88 A63.5,63.5 0 0 1 1170.06,325.42 Q1168.55,327.54 1166.44,326.01 L1153.24,316.44 Q1151.14,314.91 1152.65,312.8 A42,42 0 0 0 1155.35,308.12 Q1156.43,305.75 1158.8,306.81 L1173.69,313.46 Q1176.07,314.52 1174.99,316.88 Z" stroke="#2b2b2b" stroke-width="1.44" fill="none"/>
<path d="M1162.17,334.83 A63.5,63.5 0 0 1 1154.62,341.17 Q1152.47,342.63 1151.01,340.48 L1141.89,326.97 Q1140.43,324.82 1142.57,323.34 A42,42 0 0 0 1146.71,319.87 Q1148.53,318.02 1150.4,319.83 L1162.12,331.16 Q1163.99,332.97 1162.17,334.83 Z" stroke="#2b2b2b" stroke-width="1.44" fill="none"/>
<path d="M1143.99,347.3 A63.5,63.5 0 0 1 1134.72,350.68 Q1132.2,351.32 1131.57,348.8 L1127.61,332.98 Q1126.98,330.46 1129.5,329.81 A42,42 0 0 0 1134.57,327.96 Q1136.92,326.84 1138.06,329.18 L1145.19,343.84 Q1146.33,346.18 1143.99,347.3 Z" stroke="#2b2b2b" stroke-width="1.44" fill="none"/>
<path d="M1122.63,352.81 A63.5,63.5 0 0 1 1112.77,352.81 Q1110.18,352.55 1110.45,349.97 L1112.14,333.75 Q1112.41,331.17 1115,331.41 A42,42 0 0 0 1120.4,331.41 Q1122.99,331.17 1123.26,333.75 L1124.95,349.97 Q1125.22,352.55 1122.63,352.81 Z" stroke="#2b2b2b" stroke-width="1.44" fill="none"/>
<path d="M1100.68,350.68 A63.5,63.5 0 0 1 1091.41,347.3 Q1089.07,346.18 1090.21,343.84 L1097.34,329.18 Q1098.48,326.84 1100.83,327.96 A42,42 0 0 0 1105.9,329.81 Q1108.42,330.46 1107.79,332.98 L1103.83,348.8 Q1103.2,351.32 1100.68,350.68 Z" stroke="#2b2b2b" stroke-width="1.44" fill="none"/>
<path d="M1080.78,341.17 A63.5,63.5 0 0 1 1073.23,334.83 Q1071.41,332.97 1073.28,331.16 L1085,319.83 Q1086.87,318.02 1088.69,319.87 A42,42 0 0 0 1092.83,323.34 Q1094.97,324.82 1093.51,326.97 L1084.39,340.48 Q1082.93,342.63 1080.78,341.17 Z" stroke="#2b2b2b" stroke-width="1.44" fill="none"/>
<path d="M1065.34,325.42 A63.5,63.5 0 0 1 1060.41,316.88 Q1059.33,314.52 1061.71,313.46 L1076.6,306.81 Q1078.97,305.75 1080.05,308.12 A42,42 0 0 0 1082.75,312.8 Q1084.26,314.91 1082.16,316.44 L1068.96,326.01 Q1066.85,327.54 1065.34,325.42 Z" stroke="#2b2b2b" stroke-width="1.44" fill="none"/>
<path d="M1056.21,305.35 A63.5,63.5 0 0 1 1054.5,295.64 Q1054.3,293.04 1056.89,292.86 L1073.16,291.71 Q1075.75,291.53 1075.95,294.12 A42,42 0 0 0 1076.89,299.44 Q1077.59,301.94 1075.09,302.66 L1059.41,307.14 Q1056.91,307.85 1056.21,305.35 Z" stroke="#2b2b2b" stroke-width="1.44" fill="none"/>
<path d="M1054.5,283.36 A63.5,63.5 0 0 1 1056.21,273.65 Q1056.91,271.15 1059.41,271.86 L1075.09,276.34 Q1077.59,277.06 1076.89,279.56 A42,42 0 0 0 1075.95,284.88 Q1075.75,287.47 1073.16,287.29 L1056.89,286.14 Q1054.3,285.96 1054.5,283.36 Z" stroke="#2b2b2b" stroke-width="1.44" fill="none"/>
<path d="M1060.41,262.12 A63.5,63.5 0 0 1 1065.34,253.58 Q1066.85,251.46 1068.96,252.99 L1082.16,262.56 Q1084.26,264.09 1082.75,266.2 A42,42 0 0 0 1080.05,270.88 Q1078.97,273.25 1076.6,272.19 L1061.71,265.54 Q1059.33,264.48 1060.41,262.12 Z" stroke="#2b2b2b" stroke-width="1.44" fill="none"/>
<path d="M1073.23,244.17 A63.5,63.5 0 0 1 1080.78,237.83 Q1082.93,236.37 1084.39,238.52 L1093.51,252.03 Q1094.97,254.18 1092.83,255.66 A42,42 0 0 0 1088.69,259.13 Q1086.87,260.98 1085,259.17 L1073.28,247.84 Q1071.41,246.03 1073.23,244.17 Z" stroke="#2b2b2b" stroke-width="1.44" fill="none"/>
<path d="M1091.41,231.7 A63.5,63.5 0 0 1 1100.68,228.32 Q1103.2,227.68 1103.83,230.2 L1107.79,246.02 Q1108.42,248.54 1105.9,249.19 A42,42 0 0 0 1100.83,251.04 Q1098.48,252.16 1097.34,249.82 L1090.21,235.16 Q1089.07,232.82 1091.41,231.7 Z" stroke="#2b2b2b" stroke-width="1.44" fill="none"/>
<path d="M1179.21,235.27 A82,82 0 0 1 1195.42,263.35 Q1196.32,266.21 1193.45,267.06 L1187.21,268.91 Q1184.34,269.76 1183.42,266.9 A69.5,69.5 0 0 0 1170.13,243.88 Q1168.11,241.66 1170.29,239.59 L1175,235.12 Q1177.18,233.05 1179.21,235.27 Z" stroke="#2b2b2b" stroke-width="1.44" fill="none"/>
<path d="M1177.24,236.82 L1179.81,239.87 L1182.22,243.05 L1184.47,246.35 L1186.55,249.75 L1188.46,253.25 L1190.19,256.85 L1191.73,260.52 L1193.09,264.27" stroke="#2b2b2b" stroke-width="0.96" fill="none"/>
<path d="M1039.98,263.35 A82,82 0 0 1 1056.19,235.27 Q1058.22,233.05 1060.4,235.12 L1065.11,239.59 Q1067.29,241.66 1065.27,243.88 A69.5,69.5 0 0 0 1051.98,266.9 Q1051.06,269.76 1048.19,268.91 L1041.95,267.06 Q1039.08,266.21 1039.98,263.35 Z" stroke="#2b2b2b" stroke-width="1.44" fill="none"/>
<path d="M1042.31,264.27 L1043.67,260.52 L1045.21,256.85 L1046.94,253.25 L1048.85,249.75 L1050.93,246.35 L1053.18,243.05 L1055.59,239.87 L1058.16,236.82" stroke="#2b2b2b" stroke-width="0.96" fill="none"/>
<path d="M1131.69,368.77 A80.5,80.5 0 0 1 1103.71,368.77 Q1100.28,368.09 1101.03,364.67 L1102.12,359.79 Q1102.87,356.38 1106.31,357.05 A68.5,68.5 0 0 0 1129.09,357.05 Q1132.53,356.38 1133.28,359.79 L1134.37,364.67 Q1135.12,368.09 1131.69,368.77 Z" stroke="#2b2b2b" stroke-width="1.56" fill="none"/>
<path d="M1130.03,367.02 A78.5,78.5 0 0 1 1105.37,367.02 Q1103.39,366.69 1103.76,364.72 L1104.49,360.79 Q1104.85,358.82 1106.82,359.16 A70.5,70.5 0 0 0 1128.58,359.16 Q1130.55,358.82 1130.91,360.79 L1131.64,364.72 Q1132.01,366.69 1130.03,367.02 Z" stroke="#2b2b2b" stroke-width="0.72" fill="none"/>
<line x1="1105.2" y1="379.2" x2="1105.2" y2="399.5" stroke="#2b2b2b" stroke-width="1.32"/>
<line x1="1129.4" y1="379.2" x2="1129.4" y2="399.5" stroke="#2b2b2b" stroke-width="1.32"/>
<line x1="1097.5" y1="309.5" x2="1053.5" y2="351.5" stroke="#2b2b2b" stroke-width="1.08"/>
<rect x="1001.4" y="267.4" width="6.9" height="44.6" rx="0" stroke="#2b2b2b" stroke-width="1.2" fill="none"/>
<path d="M988.9,425.7 L1052.7,425.7 Q1062.2,425.7 1062.2,417 L1062.2,400 Q1062.7,393 1069.7,393 A113.6,113.6 0 0 0 1165.7,393 Q1172.7,393 1173.2,400 L1173.2,417 Q1173.2,425.7 1182.7,425.7 L1246.5,425.7" stroke="#2b2b2b" stroke-width="6.24" fill="none"/>
<path d="M988.9,425.7 L1052.7,425.7 Q1062.2,425.7 1062.2,417 L1062.2,400 Q1062.7,393 1069.7,393 A113.6,113.6 0 0 0 1165.7,393 Q1172.7,393 1173.2,400 L1173.2,417 Q1173.2,425.7 1182.7,425.7 L1246.5,425.7" stroke="#fff" stroke-width="3.6" fill="none"/>
<line x1="988.9" y1="421.9" x2="988.9" y2="428" stroke="#2b2b2b" stroke-width="1.2"/>
<line x1="1246.5" y1="421.9" x2="1246.5" y2="428" stroke="#2b2b2b" stroke-width="1.2"/>
<path d="M988.9,421.9 L1003.2,421.9 Q1007.2,421.9 1008.7,418 L1027.1,371.4 Q1029.2,368.4 1033.7,368.4 L1038.7,368.4" stroke="#2b2b2b" stroke-width="1.2" fill="none"/>
<path d="M1011.1,419.4 L1028.2,374 Q1029.7,371.4 1033.7,371.4 L1038.7,371.4" stroke="#2b2b2b" stroke-width="0.96" fill="none" stroke-dasharray="5 3"/>
<path d="M1246.5,421.9 L1232.2,421.9 Q1228.2,421.9 1226.7,418 L1208.3,371.4 Q1206.2,368.4 1201.7,368.4 L1196.7,368.4" stroke="#2b2b2b" stroke-width="1.2" fill="none"/>
<path d="M1224.3,419.4 L1207.2,374 Q1205.7,371.4 1201.7,371.4 L1196.7,371.4" stroke="#2b2b2b" stroke-width="0.96" fill="none" stroke-dasharray="5 3"/>
<path d="M1043.57,375.28 L1048.13,379.05 L1052.89,382.56 L1057.82,385.83 L1062.92,388.83 L1068.16,391.56" stroke="#2b2b2b" stroke-width="0.96" fill="none" stroke-dasharray="5 3"/>
<path d="M1191.83,375.28 L1187.27,379.05 L1182.51,382.56 L1177.58,385.83 L1172.48,388.83 L1167.24,391.56" stroke="#2b2b2b" stroke-width="0.96" fill="none" stroke-dasharray="5 3"/>
<path d="M1105.2,403 L1107.7,406.5 L1127.7,406.5 L1130.2,403" stroke="#2b2b2b" stroke-width="1.08" fill="none"/>
<line x1="1021" y1="408" x2="1021" y2="500" stroke="#2b2b2b" stroke-width="1.08" stroke-dasharray="24 3.5 3 3.5"/>
<line x1="1214.4" y1="408" x2="1214.4" y2="500" stroke="#2b2b2b" stroke-width="1.08" stroke-dasharray="24 3.5 3 3.5"/>
<line x1="1006.3" y1="37.6" x2="1006.3" y2="289" stroke="#2b2b2b" stroke-width="1.2"/>
<line x1="1228.7" y1="37.6" x2="1228.7" y2="289" stroke="#2b2b2b" stroke-width="1.2"/>
<line x1="1006.3" y1="46.9" x2="1093.8" y2="46.9" stroke="#2b2b2b" stroke-width="1.2"/>
<line x1="1141.5" y1="46.9" x2="1228.7" y2="46.9" stroke="#2b2b2b" stroke-width="1.2"/>
<path d="M1006.3,46.25 Q1010.35,46.12 1015.3,45.1 L1015.3,48.7 Q1010.35,47.68 1006.3,47.55 Z" fill="#484848" stroke="#484848" stroke-width="0.4"/>
<path d="M1228.7,47.55 Q1224.65,47.68 1219.7,48.7 L1219.7,45.1 Q1224.65,46.12 1228.7,46.25 Z" fill="#484848" stroke="#484848" stroke-width="0.4"/>
<text x="1098.7" y="50.95" font-size="13" fill="#222" text-anchor="start" textLength="33" lengthAdjust="spacingAndGlyphs">5.625</text>
<line x1="1031.6" y1="77.5" x2="1031.6" y2="281" stroke="#2b2b2b" stroke-width="1.2"/>
<line x1="1203" y1="77.5" x2="1203" y2="279" stroke="#2b2b2b" stroke-width="1.2"/>
<line x1="1031.4" y1="86.6" x2="1064.4" y2="86.6" stroke="#2b2b2b" stroke-width="1.2"/>
<line x1="1166" y1="86.6" x2="1203.1" y2="86.6" stroke="#2b2b2b" stroke-width="1.2"/>
<path d="M1031.4,85.95 Q1035.45,85.82 1040.4,84.8 L1040.4,88.4 Q1035.45,87.38 1031.4,87.25 Z" fill="#484848" stroke="#484848" stroke-width="0.4"/>
<path d="M1203.1,87.25 Q1199.05,87.38 1194.1,88.4 L1194.1,84.8 Q1199.05,85.82 1203.1,85.95 Z" fill="#484848" stroke="#484848" stroke-width="0.4"/>
<text x="1073.7" y="90.55" font-size="13" fill="#222" text-anchor="start" textLength="32.3" lengthAdjust="spacingAndGlyphs">4.335</text>
<text x="1121.4" y="84.65" font-size="13" fill="#222" text-anchor="start" textLength="32.8" lengthAdjust="spacingAndGlyphs">+.000</text>
<text x="1123" y="97.85" font-size="13" fill="#222" text-anchor="start" textLength="29.5" lengthAdjust="spacingAndGlyphs">-.010</text>
<rect x="1031.4" y="107.4" width="169.3" height="19" rx="0" stroke="#2b2b2b" stroke-width="1.32" fill="none"/>
<line x1="1060.3" y1="107.4" x2="1060.3" y2="126.4" stroke="#2b2b2b" stroke-width="1.2"/>
<line x1="1079.6" y1="107.4" x2="1079.6" y2="126.4" stroke="#2b2b2b" stroke-width="1.2"/>
<circle cx="1046.5" cy="116.8" r="6.8" stroke="#2b2b2b" stroke-width="1.32" fill="none"/>
<circle cx="1046.5" cy="116.8" r="5" stroke="#2b2b2b" stroke-width="0.96" fill="none"/>
<text x="1071" y="120.75" font-size="13" fill="#222" text-anchor="middle">A</text>
<text x="1102.3" y="120.75" font-size="13" fill="#222" text-anchor="start" textLength="60.7" lengthAdjust="spacingAndGlyphs">.010 T.I.R.</text>
<line x1="1021" y1="490.5" x2="1045" y2="490.5" stroke="#2b2b2b" stroke-width="1.2"/>
<path d="M1021,489.85 Q1025.05,489.72 1030,488.7 L1030,492.3 Q1025.05,491.28 1021,491.15 Z" fill="#484848" stroke="#484848" stroke-width="0.4"/>
<text x="1050" y="494.45" font-size="13" fill="#222" text-anchor="start" textLength="32.5" lengthAdjust="spacingAndGlyphs">2.438</text>
<line x1="1087" y1="490.5" x2="1117.7" y2="490.5" stroke="#2b2b2b" stroke-width="1.2"/>
<line x1="1117.7" y1="490.5" x2="1141" y2="490.5" stroke="#2b2b2b" stroke-width="1.2"/>
<path d="M1117.7,491.15 Q1113.65,491.28 1108.7,492.3 L1108.7,488.7 Q1113.65,489.72 1117.7,489.85 Z" fill="#484848" stroke="#484848" stroke-width="0.4"/>
<path d="M1117.7,489.85 Q1121.75,489.72 1126.7,488.7 L1126.7,492.3 Q1121.75,491.28 1117.7,491.15 Z" fill="#484848" stroke="#484848" stroke-width="0.4"/>
<line x1="1183" y1="490.5" x2="1214.4" y2="490.5" stroke="#2b2b2b" stroke-width="1.2"/>
<path d="M1214.4,491.15 Q1210.35,491.28 1205.4,492.3 L1205.4,488.7 Q1210.35,489.72 1214.4,489.85 Z" fill="#484848" stroke="#484848" stroke-width="0.4"/>
<text x="1146" y="494.45" font-size="13" fill="#222" text-anchor="start" textLength="32.4" lengthAdjust="spacingAndGlyphs">2.438</text>
</svg></body></html>
